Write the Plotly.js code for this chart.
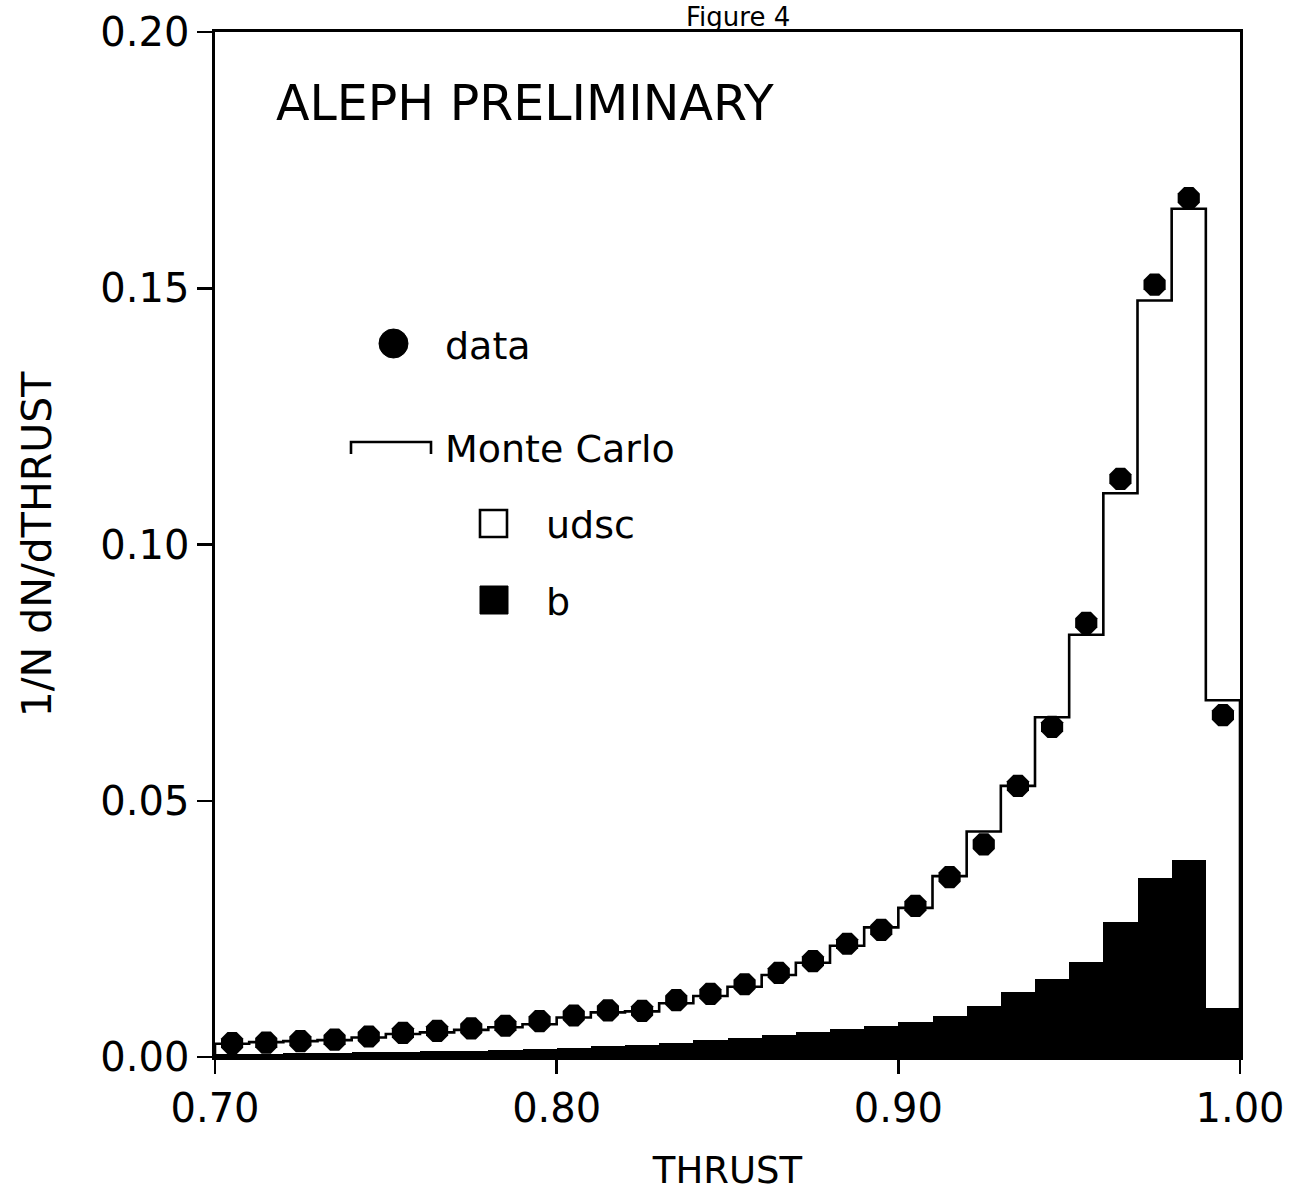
<!DOCTYPE html>
<html>
<head>
<meta charset="utf-8">
<script src="https://cdn.plot.ly/plotly-3.0.1.min.js"></script>
<style>
  html, body { margin: 0; padding: 0; background: #ffffff; }
  #chart { width: 1291px; height: 1197px; }
</style>
</head>
<body>
<div id="chart"></div>
<script>
// ---- data (bin centres in THRUST, bin width 0.01) ----
const thrust = [0.705, 0.715, 0.725, 0.735, 0.745, 0.755, 0.765, 0.775, 0.785, 0.795,
                0.805, 0.815, 0.825, 0.835, 0.845, 0.855, 0.865, 0.875, 0.885, 0.895,
                0.905, 0.915, 0.925, 0.935, 0.945, 0.955, 0.965, 0.975, 0.985, 0.995];
const binWidth = 0.01;

// measured data points (1/N dN/dTHRUST)
const dataVals = [0.0027, 0.0028, 0.0031, 0.0034, 0.0040, 0.0047, 0.0051, 0.0056, 0.0061, 0.0070,
                  0.0081, 0.0091, 0.0090, 0.0111, 0.0123, 0.0142, 0.0164, 0.0187, 0.0221, 0.0248,
                  0.0295, 0.0351, 0.0415, 0.0529, 0.0644, 0.0847, 0.1128, 0.1507, 0.1676, 0.0667];

// Monte Carlo total (udsc + b), drawn as open histogram
const mcVals = [0.0026, 0.0029, 0.0031, 0.0033, 0.0038, 0.0045, 0.0048, 0.0053, 0.0058, 0.0064,
                0.0077, 0.0087, 0.0089, 0.0105, 0.0119, 0.0137, 0.0160, 0.0184, 0.0217, 0.0253,
                0.0291, 0.0353, 0.0440, 0.0529, 0.0663, 0.0824, 0.1100, 0.1476, 0.1655, 0.0696];

// Monte Carlo b contribution (filled histogram)
const bVals = [0.0005, 0.0006, 0.0007, 0.0008, 0.0009, 0.0010, 0.0011, 0.0012, 0.0013, 0.0015,
               0.0018, 0.0021, 0.0024, 0.0028, 0.0033, 0.0038, 0.0043, 0.0048, 0.0055, 0.0060,
               0.0068, 0.0080, 0.0100, 0.0127, 0.0152, 0.0186, 0.0263, 0.0350, 0.0385, 0.0095];

const xTicks = [0.70, 0.80, 0.90, 1.00];
const yTicks = [0.00, 0.05, 0.10, 0.15, 0.20];

// ---- build the MC step outline from the bins ----
const mcX = [thrust[0] - binWidth / 2];
const mcY = [0];
for (let i = 0; i < thrust.length; i++) {
  mcX.push(thrust[i] - binWidth / 2, thrust[i] + binWidth / 2);
  mcY.push(mcVals[i], mcVals[i]);
}
mcX.push(thrust[thrust.length - 1] + binWidth / 2);
mcY.push(0);

// ---- layout helpers (pixel -> paper) ----
const W = 1291, H = 1197;
const M = { l: 215, r: 51, t: 32, b: 140 };
const PW = W - M.l - M.r, PH = H - M.t - M.b;
const px = x => (x - M.l) / PW;
const py = y => (H - M.b - y) / PH;

const FONT = 'DejaVu Sans, Liberation Sans, sans-serif';

const traces = [
  {
    type: 'bar', x: thrust, y: bVals, width: binWidth,
    marker: { color: '#000000', line: { width: 0 } },
    name: 'b', hoverinfo: 'x+y'
  },
  {
    type: 'scatter', mode: 'lines', x: mcX, y: mcY,
    line: { color: '#000000', width: 2.6, shape: 'linear' },
    name: 'Monte Carlo', hoverinfo: 'skip'
  },
  {
    type: 'scatter', mode: 'markers', x: thrust, y: dataVals,
    marker: { symbol: 'octagon', size: 24, color: '#000000', line: { width: 0 } },
    name: 'data'
  }
];

const shapes = [
  // legend: data symbol
  { type: 'circle', xref: 'paper', yref: 'paper',
    x0: px(379), x1: px(408), y0: py(358), y1: py(329),
    fillcolor: '#000000', line: { color: '#000000', width: 1 } },
  // legend: Monte Carlo bracket
  { type: 'path', xref: 'paper', yref: 'paper',
    path: `M ${px(351)} ${py(454)} L ${px(351)} ${py(442)} L ${px(431)} ${py(442)} L ${px(431)} ${py(454)}`,
    line: { color: '#000000', width: 2.6 } },
  // legend: udsc open square
  { type: 'rect', xref: 'paper', yref: 'paper',
    x0: px(480), x1: px(507), y0: py(537), y1: py(510),
    fillcolor: '#ffffff', line: { color: '#000000', width: 2.6 } },
  // legend: b filled square
  { type: 'rect', xref: 'paper', yref: 'paper',
    x0: px(480), x1: px(508), y0: py(614), y1: py(586),
    fillcolor: '#000000', line: { color: '#000000', width: 1 } }
];

const ann = (text, x, y, size, xanchor, yanchor) => ({
  text: text, xref: 'paper', yref: 'paper', x: px(x), y: py(y),
  xanchor: xanchor || 'left', yanchor: yanchor || 'middle', showarrow: false,
  font: { family: FONT, size: size, color: '#000000' }
});

const annotations = [
  ann('Figure 4', 738, 0, 26, 'center', 'top'),
  ann('ALEPH PRELIMINARY', 274, 104, 49),
  ann('data', 443, 346, 38),
  ann('Monte Carlo', 443, 449, 38),
  ann('udsc', 544, 525, 38),
  ann('b', 544, 602, 38)
];

const layout = {
  width: W, height: H,
  margin: M,
  paper_bgcolor: '#ffffff', plot_bgcolor: '#ffffff',
  showlegend: false,
  bargap: 0,
  font: { family: FONT, color: '#000000' },
  xaxis: {
    range: [0.70, 1.00], tickvals: xTicks, tickformat: '.2f',
    ticks: 'outside', ticklen: 14, tickwidth: 2.5, tickcolor: '#000000',
    showline: true, linewidth: 2.6, linecolor: '#000000', mirror: true,
    showgrid: false, zeroline: false, automargin: false,
    tickfont: { family: FONT, size: 40 },
    title: { text: 'THRUST', font: { family: FONT, size: 37 }, standoff: 28 }
  },
  yaxis: {
    range: [0, 0.20], tickvals: yTicks, tickformat: '.2f',
    ticks: 'outside', ticklen: 15, tickwidth: 2.5, tickcolor: '#000000',
    showline: true, linewidth: 2.6, linecolor: '#000000', mirror: true,
    showgrid: false, zeroline: false, automargin: false,
    tickfont: { family: FONT, size: 40 },
    title: { text: '1/N dN/dTHRUST', font: { family: FONT, size: 41 }, standoff: 36 }
  },
  shapes: shapes,
  annotations: annotations
};

Plotly.newPlot('chart', traces, layout, { displayModeBar: false, staticPlot: true });
</script>
</body>
</html>
